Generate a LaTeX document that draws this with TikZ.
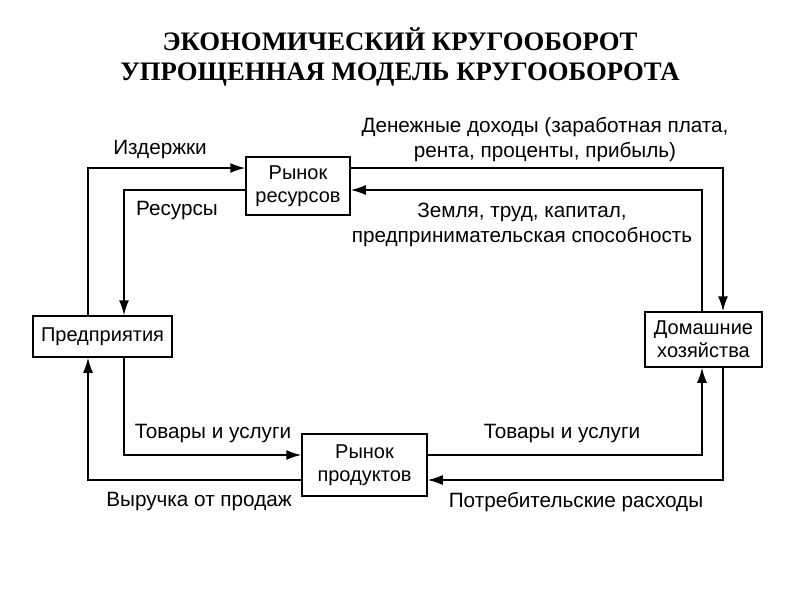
\documentclass[tikz,border=0pt]{standalone}
\usepackage{fontspec}
\setmainfont{Liberation Sans}
\newfontfamily\titlefont{Liberation Serif}
\usetikzlibrary{arrows.meta}

\tikzset{
  box/.style={draw,line width=1.5pt,inner sep=0pt,align=center,font=\fontsize{20}{23}\selectfont},
  flow/.style={line width=1.6pt,-{Latex[length=15pt,width=10pt]}},
  lbl/.style={align=center,inner sep=0pt,font=\fontsize{20.7}{25}\selectfont}
}

\begin{document}
\begin{tikzpicture}[x=1pt,y=-1pt]
\useasboundingbox (0,0) rectangle (800,600);
% title
\node[align=center,font=\titlefont\bfseries\fontsize{26.7}{30}\selectfont] (title) at (400,57) {ЭКОНОМИЧЕСКИЙ КРУГООБОРОТ\\УПРОЩЕННАЯ МОДЕЛЬ КРУГООБОРОТА};
% markets and agents
\node[box,minimum width=104pt,minimum height=58pt] (resmarket) at (298,186) {Рынок\\ресурсов};
\node[box,minimum width=139pt,minimum height=41pt] (firms) at (102.5,336.5) {Предприятия};
\node[box,minimum width=117pt,minimum height=55pt] (homes) at (703.5,339.5) {Домашние\\хозяйства};
\node[box,minimum width=125pt,minimum height=62pt] (prodmarket) at (364.5,465) {Рынок\\продуктов};
% flows
\draw[flow] ([xshift=-14.5pt]firms.north) |- ([yshift=18pt]resmarket.west);
\draw[flow] ([yshift=-4pt]resmarket.west) -| ([xshift=21.5pt]firms.north);
\draw[flow] ([yshift=18pt]resmarket.east) -| ([xshift=19.5pt]homes.north);
\draw[flow] ([xshift=-1.5pt]homes.north) |- ([yshift=-4pt]resmarket.east);
\draw[flow] ([xshift=21.5pt]firms.south) |- ([yshift=10pt]prodmarket.west);
\draw[flow] ([yshift=-15pt]prodmarket.west) -| ([xshift=-14.5pt]firms.south);
\draw[flow] ([yshift=10pt]prodmarket.east) -| ([xshift=-1.5pt]homes.south);
\draw[flow] ([xshift=19.5pt]homes.south) |- ([yshift=-15pt]prodmarket.east);
% labels
\node[lbl] (costs) at (160,150) {Издержки};
\node[lbl] (resources) at (177,211) {Ресурсы};
\node[lbl] (income) at (545,140) {Денежные доходы (заработная плата,\\рента, проценты, прибыль)};
\node[lbl] (factors) at (522,225) {Земля, труд, капитал,\\предпринимательская способность};
\node[lbl] (goodsleft) at (213,434) {Товары и услуги};
\node[lbl] (goodsright) at (562,434) {Товары и услуги};
\node[lbl] (revenue) at (199,502) {Выручка от продаж};
\node[lbl] (spending) at (576,502) {Потребительские расходы};
\end{tikzpicture}
\end{document}
